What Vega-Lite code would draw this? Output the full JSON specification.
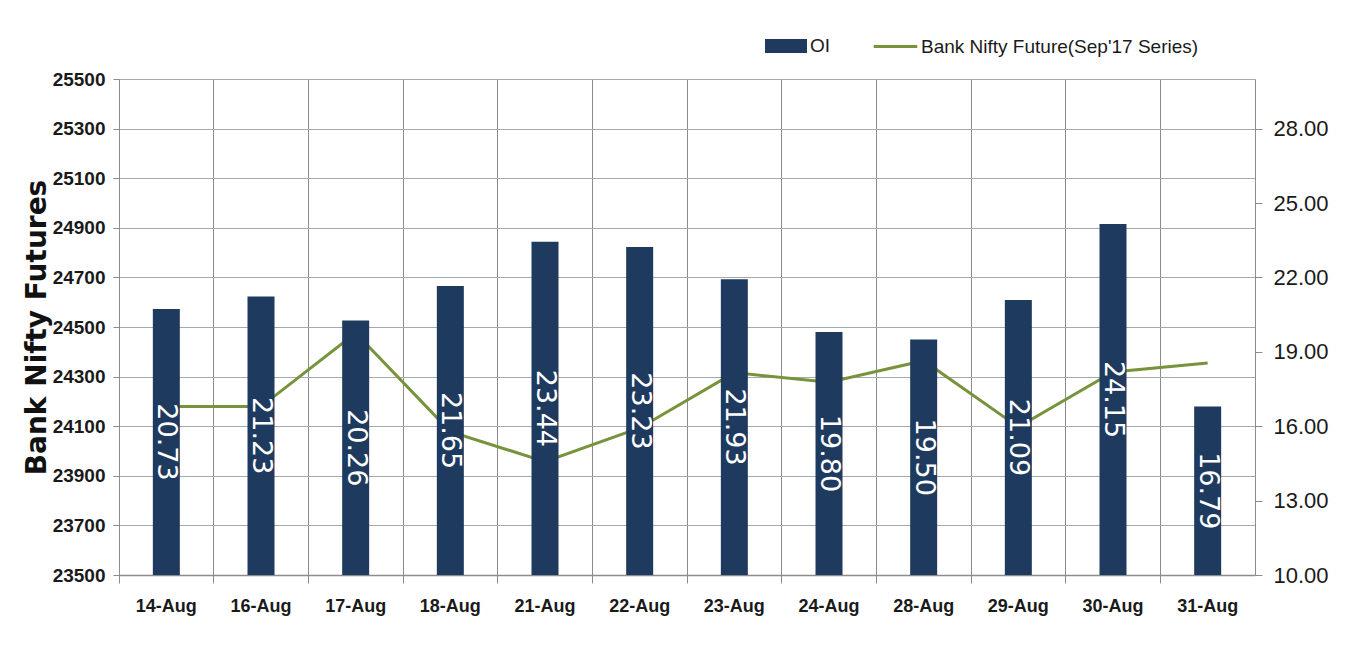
{
  "$schema": "https://vega.github.io/schema/vega-lite/v6.json",
  "autosize": {"type": "none"},
  "padding": {"left": 119, "top": 79, "right": 117, "bottom": 78},
  "width": 1136,
  "height": 496,
  "background": "white",
  "config": {
    "view": {"stroke": null},
    "font": "Liberation Sans, Arial, sans-serif"
  },
  "data": {
    "values": [
      {"date": "14-Aug", "OI": 20.73, "BN": 24179},
      {"date": "16-Aug", "OI": 21.23, "BN": 24179},
      {"date": "17-Aug", "OI": 20.26, "BN": 24476},
      {"date": "18-Aug", "OI": 21.65, "BN": 24078},
      {"date": "21-Aug", "OI": 23.44, "BN": 23957},
      {"date": "22-Aug", "OI": 23.23, "BN": 24093},
      {"date": "23-Aug", "OI": 21.93, "BN": 24316},
      {"date": "24-Aug", "OI": 19.80, "BN": 24277},
      {"date": "28-Aug", "OI": 19.50, "BN": 24364},
      {"date": "29-Aug", "OI": 21.09, "BN": 24097},
      {"date": "30-Aug", "OI": 24.15, "BN": 24319},
      {"date": "31-Aug", "OI": 16.79, "BN": 24355}
    ]
  },
  "encoding": {
    "x": {
      "field": "date",
      "type": "nominal",
      "sort": null,
      "scale": {"paddingInner": 0, "paddingOuter": 0},
      "axis": {
        "title": null,
        "labelAngle": 0,
        "bandPosition": 0,
        "grid": true,
        "gridColor": "#8c8c8c",
        "gridWidth": 1,
        "domainColor": "#8c8c8c",
        "domainWidth": 1.5,
        "tickColor": "#8c8c8c",
        "tickSize": 8,
        "labelFont": "Liberation Sans, Arial, sans-serif",
        "labelFontSize": 18,
        "labelFontWeight": "bold",
        "labelColor": "#1a1a1a",
        "labelPadding": 14,
        "labelBaseline": "top"
      }
    }
  },
  "layer": [
    {
      "mark": {"type": "line", "strokeWidth": 3},
      "encoding": {
        "y": {
          "field": "BN",
          "type": "quantitative",
          "scale": {"domain": [23500, 25500], "nice": false, "zero": false},
          "axis": {
            "orient": "left",
            "values": [23500, 23700, 23900, 24100, 24300, 24500, 24700, 24900, 25100, 25300, 25500],
            "format": "d",
            "grid": true,
            "gridColor": "#a4a8b0",
            "gridWidth": 1,
            "domain": true,
            "domainColor": "#8c8c8c",
            "tickColor": "#8c8c8c",
            "tickSize": 6,
            "labelPadding": 8,
            "labelFont": "Liberation Sans, Arial, sans-serif",
            "labelFontSize": 19,
            "labelFontWeight": "bold",
            "labelColor": "#1a1a1a",
            "title": "Bank Nifty Futures",
            "titleFont": "DejaVu Sans",
            "titleFontSize": 28,
            "titleFontWeight": "bold",
            "titleColor": "#111111",
            "titleAngle": -90,
            "titleX": -82,
            "titleY": 248,
            "titleAlign": "center",
            "titleBaseline": "middle"
          }
        },
        "stroke": {
          "datum": "Bank Nifty Future(Sep'17 Series)",
          "type": "nominal",
          "scale": {"range": ["#77933C"]},
          "legend": {
            "orient": "none",
            "legendX": 753,
            "legendY": -56,
            "title": null,
            "symbolType": "stroke",
            "symbolSize": 1900,
            "symbolStrokeWidth": 3,
            "labelFont": "Liberation Sans, Arial, sans-serif",
            "labelFontSize": 19,
            "labelColor": "#1a1a1a",
            "labelLimit": 500,
            "labelOffset": 2,
            "padding": 0
          }
        }
      }
    },
    {
      "mark": {"type": "bar", "width": 27, "color": "#1F3A5F"},
      "encoding": {
        "y": {
          "field": "OI",
          "type": "quantitative",
          "scale": {"domain": [10, 30], "nice": false, "zero": false},
          "axis": {
            "orient": "right",
            "values": [10, 13, 16, 19, 22, 25, 28],
            "format": ".2f",
            "grid": false,
            "domain": true,
            "domainColor": "#8c8c8c",
            "tickColor": "#8c8c8c",
            "tickSize": 7,
            "labelPadding": 11,
            "labelFont": "Liberation Sans, Arial, sans-serif",
            "labelFontSize": 22,
            "labelColor": "#1a1a1a",
            "title": null
          }
        },
        "y2": {"datum": 10},
        "color": {
          "datum": "OI",
          "type": "nominal",
          "scale": {"range": ["#1F3A5F"]},
          "legend": {
            "orient": "none",
            "legendX": 646,
            "legendY": -54,
            "title": null,
            "symbolType": "M-1,-0.33H1V0.33H-1Z",
            "symbolSize": 1764,
            "symbolStrokeWidth": 0,
            "labelFont": "Liberation Sans, Arial, sans-serif",
            "labelFontSize": 19,
            "labelColor": "#1a1a1a",
            "labelOffset": 3,
            "padding": 0
          }
        }
      }
    },
    {
      "mark": {"type": "text", "angle": 90, "align": "center", "baseline": "middle", "color": "white", "font": "DejaVu Sans", "fontSize": 27},
      "encoding": {
        "y": {
          "field": "OI",
          "type": "quantitative",
          "scale": {"domain": [10, 50], "nice": false, "zero": false},
          "axis": null
        },
        "text": {"field": "OI", "type": "quantitative", "format": ".2f"}
      }
    }
  ],
  "resolve": {"scale": {"y": "independent"}}
}
